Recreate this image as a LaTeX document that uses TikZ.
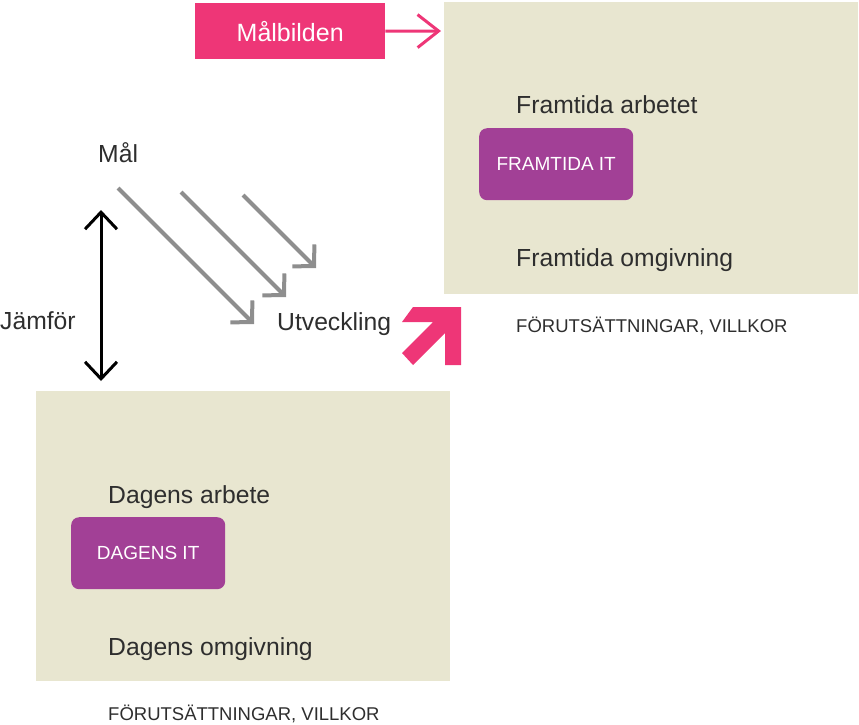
\documentclass[tikz,border=0pt]{standalone}
\usepackage{fontspec}
\setmainfont{Liberation Sans}
\usetikzlibrary{arrows.meta}
\definecolor{pinkc}{HTML}{EE3677}
\definecolor{beigec}{HTML}{E8E6D0}
\definecolor{purplec}{HTML}{A24096}
\definecolor{textc}{HTML}{2E2E2E}
\definecolor{grayc}{HTML}{8E8E8E}
\tikzset{
  area/.style={fill=beigec, draw=none, anchor=north west, inner sep=0pt},
  itbox/.style={fill=purplec, draw=none, rounded corners=8pt, anchor=north west, inner sep=0pt,
    minimum width=154pt, minimum height=72pt, text=white, font=\fontsize{19}{22}\selectfont},
  lbl/.style={anchor=base west, inner sep=0pt, text=textc, font=\fontsize{24.7}{29}\selectfont},
  small/.style={anchor=base west, inner sep=0pt, text=textc, font=\fontsize{18.5}{22}\selectfont},
  grayarrow/.style={draw=grayc, line width=4pt, -{Straight Barb[length=15pt, width=31pt, line width=4pt]}},
  blackarrow/.style={draw=black, line width=3pt, {Straight Barb[length=17pt, width=32pt]}-{Straight Barb[length=17pt, width=32pt]}},
  pinkarrow/.style={draw=pinkc, line width=3pt, -{Straight Barb[length=21pt, width=33pt]}}
}
\begin{document}
\begin{tikzpicture}[x=1pt,y=-1pt]
\useasboundingbox (0,0) rectangle (859,724);
% areas
\node[area, minimum width=414pt, minimum height=292pt] (top) at (444,2) {};
\node[area, minimum width=414pt, minimum height=290pt] (bot) at (36,391) {};
% Målbilden
\node[fill=pinkc, anchor=north west, inner sep=0pt, minimum width=190pt, minimum height=56pt,
  text=white, font=\fontsize{25}{29}\selectfont] (mal) at (195,3) {Målbilden};
\coordinate (malend) at (441,31);
\draw[pinkarrow] (mal.east) -- (malend);
% top texts
\node[lbl] (fa) at (516,113) {Framtida arbetet};
\node[itbox] (fit) at (479,128) {FRAMTIDA IT};
\node[lbl] (fo) at (516,266) {Framtida omgivning};
\node[small] (fv) at (516,332) {FÖRUTSÄTTNINGAR, VILLKOR};
% bottom texts
\node[lbl] (da) at (108,503) {Dagens arbete};
\node[itbox] (dit) at (71,517) {DAGENS IT};
\node[lbl] (do) at (108,655) {Dagens omgivning};
\node[small] (dv) at (108,720) {FÖRUTSÄTTNINGAR, VILLKOR};
% left labels
\node[lbl] (goal) at (98,162) {Mål};
\node[lbl] (jam) at (0,329) {Jämför};
\node[lbl] (utv) at (277,330) {Utveckling};
% compare arrow
\coordinate (ct) at (101,210);
\coordinate (cb) at (101,381);
\draw[blackarrow] (cb) -- (ct);
% gray arrows
\coordinate (g1s) at (118,188); \coordinate (g1e) at (254,324);
\coordinate (g2s) at (181,192); \coordinate (g2e) at (286,297);
\coordinate (g3s) at (243,195); \coordinate (g3e) at (316,268);
\draw[grayarrow] (g1s) -- (g1e);
\draw[grayarrow] (g2s) -- (g2e);
\draw[grayarrow] (g3s) -- (g3e);
% big pink arrow
\fill[pinkc] (413,307) -- (461,307) -- (461,365) -- (445,365) -- (445,333) -- (413,365) -- (402,353) -- (433,322) -- (402,322) -- cycle;
\end{tikzpicture}
\end{document}
